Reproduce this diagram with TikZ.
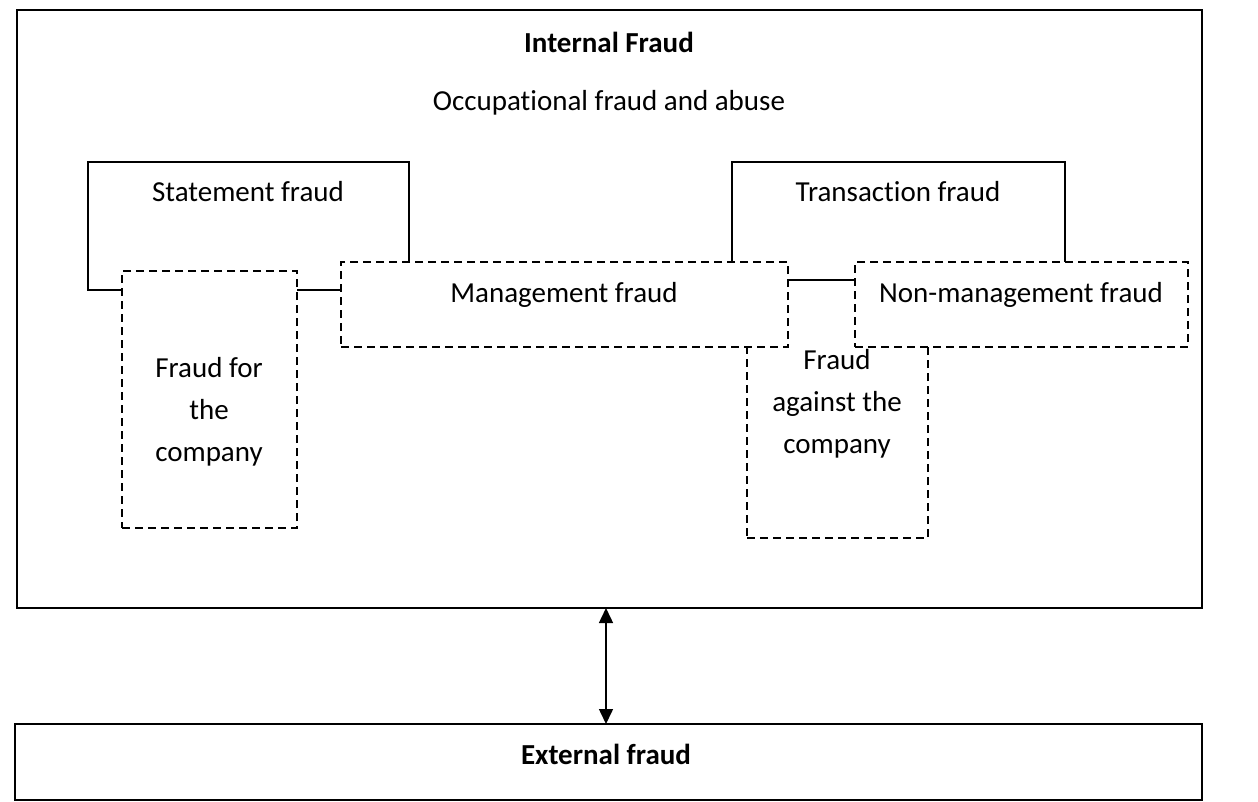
\documentclass[tikz,border=0pt]{standalone}
\usepackage{fontspec}
\setmainfont{Carlito}[Ligatures=NoCommon]
\usetikzlibrary{arrows.meta}

\begin{document}
\begin{tikzpicture}[x=1pt, y=-1pt,
    font=\fontsize{29}{42}\selectfont,
    frame/.style={rectangle, draw, line width=2.2pt, anchor=north west, inner sep=0pt, outer sep=0pt},
    typebox/.style={rectangle, draw, fill=white, line width=1.8pt, anchor=north west, inner sep=0pt, outer sep=0pt},
    kindbox/.style={typebox, dash pattern=on 8pt off 5pt},
    txt/.style={inner sep=0pt, align=center},
    twoway/.style={{Triangle[length=15pt,width=14pt]}-{Triangle[length=15pt,width=14pt]}, line width=1.5pt}]

    \useasboundingbox (0,0) rectangle (1258,801);

    \node[frame, minimum width=1185pt, minimum height=598pt] (internal) at (17,10) {};
    \node[frame, minimum width=1187pt, minimum height=76pt] (external) at (15,724) {};

    \node[txt, font=\fontsize{29}{42}\selectfont\bfseries] (intlabel) at (609,42) {Internal Fraud};
    \node[txt] (occlabel) at (609,103) {Occupational fraud and abuse};

    \node[kindbox, minimum width=181pt, minimum height=266pt] (against) at (747,272) {};
    \node[typebox, minimum width=321pt, minimum height=128pt] (statement) at (88,162) {};
    \node[typebox, minimum width=333pt, minimum height=118pt] (transaction) at (732,162) {};
    \node[kindbox, minimum width=175pt, minimum height=257pt] (forco) at (122,271) {};
    \node[kindbox, minimum width=447pt, minimum height=85pt] (mgmt) at (341,262) {};
    \node[kindbox, minimum width=333pt, minimum height=85pt] (nonmgmt) at (855,262) {};

    \node[txt] (statementlabel) at (248,192) {Statement fraud};
    \node[txt] (transactionlabel) at (898,192) {Transaction fraud};
    \node[txt] (mgmtlabel) at (564,295) {Management fraud};
    \node[txt] (nonmgmtlabel) at (1021,295) {Non-management fraud};
    \node[txt] (forcolabel) at (209,412) {Fraud for\\the\\company};
    \node[txt] (againstlabel) at (837,404) {Fraud\\against the\\company};

    \node[txt, font=\fontsize{29}{42}\selectfont\bfseries] (extlabel) at (606,754) {External fraud};

    \coordinate (ax) at (606,0);
    \draw[twoway] (internal.south -| ax) -- (external.north -| ax);

\end{tikzpicture}
\end{document}
